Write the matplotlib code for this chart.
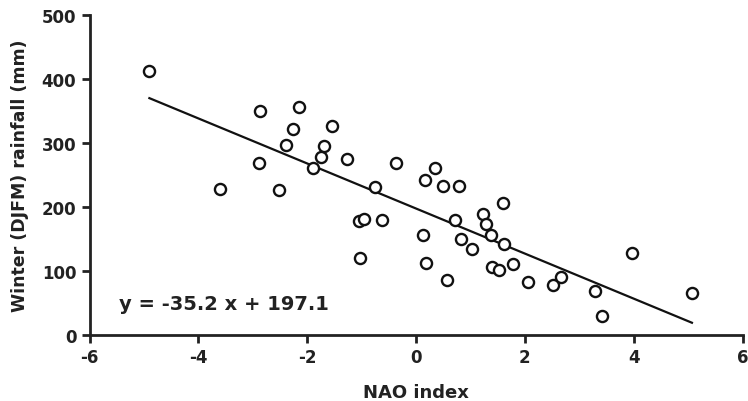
import matplotlib.pyplot as plt
import numpy as np

# NAO index vs winter (DJFM) rainfall
nao = [-4.90, -3.61, -2.86, -2.88, -2.52, -2.39, -2.26, -2.15, -1.90, -1.74,
       -1.70, -1.55, -1.27, -0.75, -1.05, -0.96, -1.03, -0.63, -0.375, 0.165,
       0.34, 0.50, 0.79, 0.12, 0.18, 0.56, 0.72, 0.83, 1.02, 1.23,
       1.28, 1.38, 1.60, 1.62, 1.39, 1.52, 1.79, 2.05, 2.51, 2.67,
       3.28, 3.42, 3.96, 5.07]
rain = [412, 228, 350, 268, 226, 297, 322, 356, 261, 277,
        295, 326, 274, 230, 178, 180, 120, 179, 269, 242,
        260, 233, 232, 156, 112, 85, 179, 149, 134, 188,
        173, 156, 206, 141, 105, 101, 111, 82, 78, 90,
        68, 29, 128, 65]

# regression line y = -35.2 x + 197.1
slope = -35.2
intercept = 197.1

plt.rcParams['font.family'] = ['DejaVu Sans']
plt.rcParams['font.weight'] = 'bold'
plt.rcParams['axes.unicode_minus'] = False

fig = plt.figure(figsize=(7.48, 4.02), dpi=100)
ax = fig.add_axes([0.1197, 0.165, 0.873, 0.796])

xl = np.array([min(nao), max(nao)])
ax.plot(xl, slope * xl + intercept, color='#111111', lw=1.6, zorder=2)
ax.scatter(nao, rain, s=64, facecolors='white', edgecolors='#111111',
           linewidths=1.7, zorder=3)

ax.text(-5.45, 48, 'y = -35.2 x + 197.1', fontsize=14, fontweight='bold',
        color='#222222', va='center', ha='left')

ax.set_xlim(-6, 6)
ax.set_ylim(0, 500)
ax.set_xticks(range(-6, 7, 2))
ax.set_yticks(range(0, 501, 100))
ax.set_xlabel('NAO index', fontsize=13, fontweight='bold', color='#222222', labelpad=12)
ax.set_ylabel('Winter (DJFM) rainfall (mm)', fontsize=12.5, fontweight='bold',
              color='#222222', labelpad=9)

for s in ['top', 'right']:
    ax.spines[s].set_visible(False)
for s in ['left', 'bottom']:
    ax.spines[s].set_linewidth(2)
    ax.spines[s].set_color('#222222')
ax.tick_params(width=2, length=6, color='#222222', labelsize=12, labelcolor='#222222')
for lab in ax.get_xticklabels() + ax.get_yticklabels():
    lab.set_fontweight('bold')

fig.savefig('out.png', dpi=100)
